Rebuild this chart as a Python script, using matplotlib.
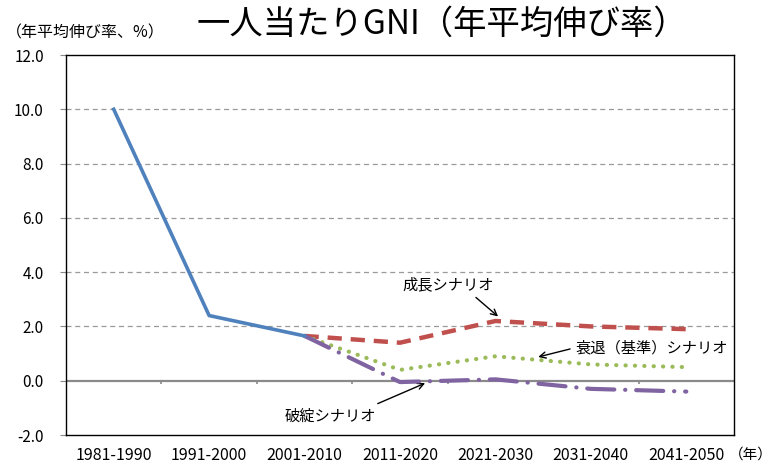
import numpy as np
import matplotlib
matplotlib.use('Agg')
import matplotlib.pyplot as plt

plt.rcParams['font.family'] = ['Noto Sans CJK JP', 'DejaVu Sans']

# データ
periods = ['1981-1990', '1991-2000', '2001-2010', '2011-2020',
           '2021-2030', '2031-2040', '2041-2050']
actual = [10.0, 2.4, 1.65, np.nan, np.nan, np.nan, np.nan]
growth = [np.nan, np.nan, 1.65, 1.4, 2.2, 2.0, 1.9]
decline = [np.nan, np.nan, 1.65, 0.4, 0.9, 0.6, 0.5]
collapse = [np.nan, np.nan, 1.65, -0.05, 0.05, -0.3, -0.4]
yticks = [-2.0, 0.0, 2.0, 4.0, 6.0, 8.0, 10.0, 12.0]

x = np.arange(len(periods))

fig = plt.figure(figsize=(7.75, 4.67), dpi=100)
ax = fig.add_axes([66 / 775, 32 / 467, 668 / 775, 380 / 467])

# グリッド
for v in yticks[2:-1]:
    ax.axhline(v, color='#9a9a9a', lw=0.9, ls=(0, (4, 3)), zorder=1)
ax.axhline(0, color='#8a8a8a', lw=1.6, zorder=2)

ax.plot(x, actual, color='#4F81BD', lw=2.6, zorder=5)
ax.plot(x, growth, color='#C0504D', lw=3.2, dashes=(3.2, 2.0), zorder=4)
ax.plot(x, decline, color='#9BBB59', lw=3.0, ls=(0, (0.05, 2.2)),
        dash_capstyle='round', zorder=4)
ax.plot(x, collapse, color='#8064A2', lw=3.0, dashes=(6.5, 2.6, 0.05, 2.6),
        dash_capstyle='round', zorder=4)

# x軸の目盛り (0 の位置)
ax.vlines(x[:-1] + 0.5, -0.13, 0, color='#8a8a8a', lw=1.2, zorder=2)

ax.set_xlim(-0.5, len(periods) - 0.5)
ax.set_ylim(-2.0, 12.0)
ax.set_yticks(yticks)
ax.set_yticklabels([f'{v:.1f}' for v in yticks], fontsize=11)
ax.set_xticks(x)
ax.set_xticklabels(periods, fontsize=11.5)
ax.tick_params(axis='x', length=0, pad=9)
ax.tick_params(axis='y', length=4, direction='out', color='#8a8a8a', pad=12)
for s in ax.spines.values():
    s.set_color('black')
    s.set_linewidth(1.0)

fig.text(442 / 775, 1 - 24 / 467, '一人当たりGNI（年平均伸び率）',
         fontsize=24, ha='center', va='center')
fig.text(6 / 775, 1 - 33 / 467, '（年平均伸び率、%）', fontsize=11.5,
         ha='left', va='center')
fig.text(773 / 775, 1 - 455 / 467, '（年）', fontsize=10.5, ha='right', va='center')

arrow = dict(arrowstyle='->', color='black', lw=1.0)
ax.annotate('成長シナリオ', xy=(4.05, 2.3), xytext=(3.5, 3.55),
            fontsize=11, ha='center', va='center',
            arrowprops=dict(arrow, relpos=(0.75, 0.0)))
ax.annotate('衰退（基準）シナリオ', xy=(4.42, 0.85), xytext=(4.84, 1.22),
            fontsize=11, ha='left', va='center',
            arrowprops=dict(arrow, relpos=(0.0, 0.5)))
ax.annotate('破綻シナリオ', xy=(3.29, -0.05), xytext=(2.27, -1.3),
            fontsize=11, ha='center', va='center',
            arrowprops=dict(arrow, relpos=(0.92, 1.0)))

plt.savefig('out.png', dpi=100)
